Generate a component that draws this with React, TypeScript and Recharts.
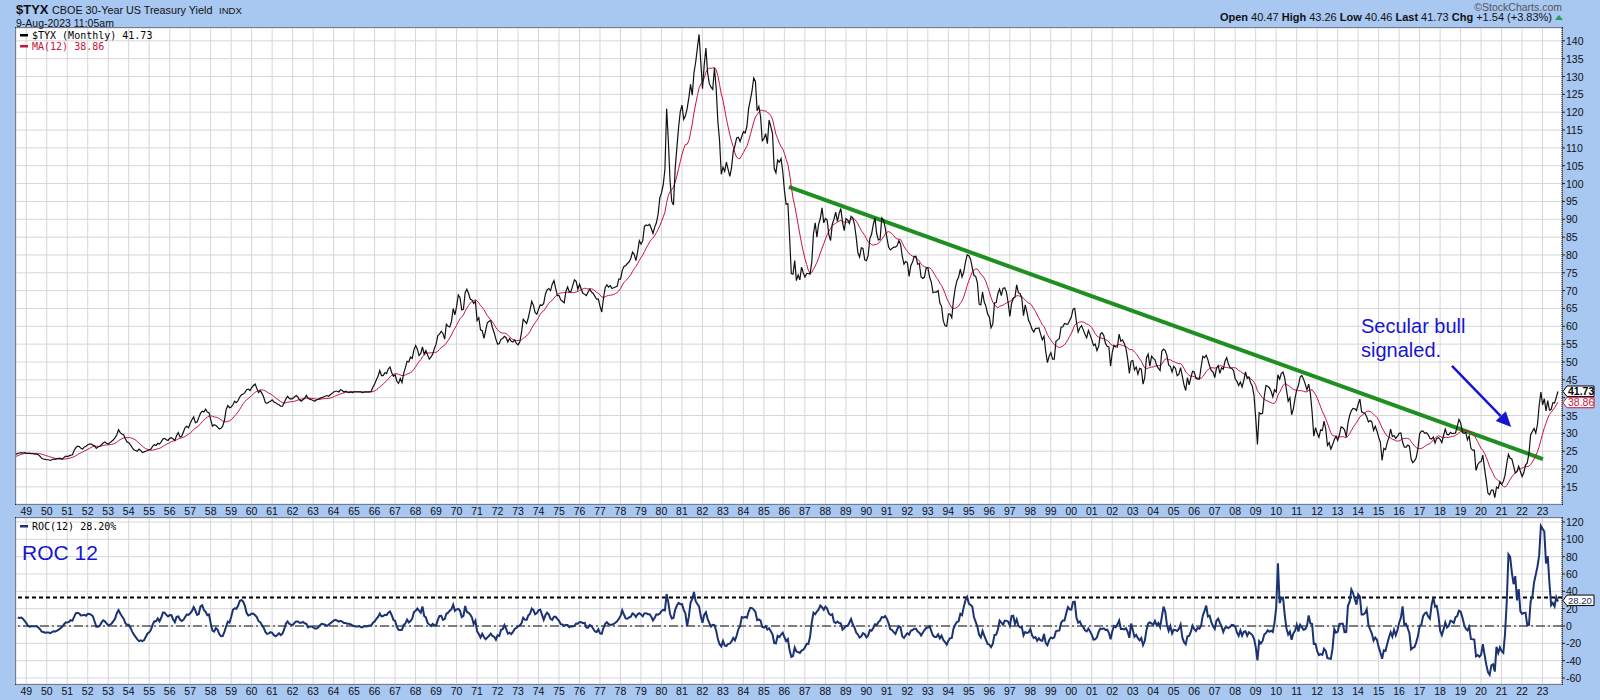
import React from "react";
import {
  CartesianGrid,
  ComposedChart,
  Line,
  ReferenceDot,
  ReferenceLine,
  XAxis,
  YAxis,
} from "recharts";

// $TYX monthly closes (yield x 10), starting Jun 1947
const START_YEAR = 1947;
const START_MONTH = 6;
// each monthly point sits ~2 months right of its year grid line
const POINT_OFFSET = 0.17;

const closes1940s = [
  22.2, 22.4, 22.4, 22.6, 23.2, 23.6, 24.4,
  24.6, 24.4, 24.4, 24.3, 24.2, 24.4, 24.5, 24.6, 24.5, 24.6, 24.4, 24.4,
  24.4, 24.3, 24.3, 24.2, 24.2, 24.0, 23.6, 23.0, 22.8, 22.7, 22.6, 22.6,
];
const closes1950s = [
  22.4, 22.6, 22.8, 22.7, 22.9, 23.0, 23.0, 22.8, 23.2, 23.6, 23.5, 23.7,
  23.9, 24.0, 25.2, 26.0, 26.4, 26.3, 25.8, 25.6, 26.2, 26.4, 26.8, 27.0,
  27.0, 26.7, 26.5, 25.8, 26.2, 26.4, 26.8, 27.3, 27.6, 27.2, 27.0, 27.4,
  27.8, 28.2, 28.8, 29.6, 31.0, 30.2, 29.8, 29.6, 28.5, 27.6, 27.4, 26.8,
  26.0, 25.4, 25.2, 25.0, 25.6, 25.2, 24.6, 24.8, 25.0, 25.2, 25.4, 25.6,
  26.4, 26.8, 26.6, 27.2, 27.0, 27.6, 28.4, 28.6, 28.2, 28.0, 28.6, 28.8,
  28.4, 28.0, 29.4, 30.2, 29.0, 29.2, 30.4, 31.6, 32.0, 31.6, 32.8, 33.8,
  34.6, 33.0, 33.2, 34.4, 35.6, 36.2, 36.0, 36.8, 36.0, 35.8, 33.8, 32.0,
  32.4, 32.2, 31.8, 31.2, 31.4, 32.0, 33.6, 36.6, 37.8, 37.2, 37.4, 38.0,
  39.0, 38.6, 39.2, 40.2, 40.8, 41.0, 41.4, 42.2, 42.4, 42.0, 42.8, 43.4,
];
const closes1960s = [
  43.8, 42.6, 41.4, 42.0, 41.2, 40.2, 38.6, 38.4, 38.8, 39.0, 39.4, 38.8,
  38.6, 38.2, 38.0, 37.6, 37.6, 38.6, 39.6, 40.4, 39.8, 39.6, 39.8, 40.2,
  40.6, 40.2, 39.4, 39.0, 39.4, 39.8, 40.6, 39.8, 39.6, 39.4, 39.2, 39.0,
  39.4, 39.6, 39.8, 40.0, 40.2, 40.4, 40.6, 40.4, 40.8, 41.2, 41.6, 41.8,
  41.8, 41.6, 42.2, 42.0, 41.6, 41.8, 41.6, 41.4, 41.6, 41.4, 41.6, 41.6,
  41.6, 41.6, 41.6, 41.4, 41.6, 41.6, 41.6, 41.6, 41.8, 43.0, 43.8, 45.0,
  46.0, 47.6, 46.2, 46.2, 47.0, 46.8, 48.0, 48.6, 47.0, 46.0, 46.4, 44.6,
  44.0, 45.4, 44.2, 46.8, 48.4, 50.2, 50.0, 51.4, 51.0, 53.4, 54.6, 53.6,
  51.8, 52.4, 54.2, 52.2, 53.2, 52.0, 50.8, 51.4, 52.2, 53.8, 55.0, 57.4,
  57.8, 58.6, 58.0, 56.4, 60.6, 60.0, 59.8, 61.4, 65.0, 63.2, 65.6, 68.8,
];
const closes1970s = [
  68.0, 64.6, 64.8, 69.4, 70.4, 69.2, 67.6, 67.4, 66.4, 67.0, 61.6, 62.4,
  59.0, 58.8, 56.6, 58.8, 61.0, 61.4, 61.6, 59.6, 58.2, 56.4, 55.0, 55.2,
  56.4, 56.6, 57.2, 56.8, 55.6, 56.6, 55.8, 55.6, 56.2, 55.2, 54.8, 55.6,
  58.2, 62.0, 61.4, 60.8, 62.4, 64.6, 67.0, 65.8, 63.8, 63.4, 64.8, 66.0,
  65.8, 66.4, 69.0, 70.2, 70.6, 70.0, 71.8, 72.8, 70.6, 68.6, 68.6, 67.4,
  67.0, 66.6, 69.8, 71.0, 69.6, 69.8, 71.4, 73.0, 72.6, 70.4, 71.8, 70.4,
  69.2, 69.0, 68.6, 69.6, 70.4, 69.6, 69.2, 68.4, 67.6, 67.6, 65.6, 64.0,
  67.8, 70.8, 71.6, 71.0, 71.4, 70.6, 70.8, 71.0, 71.2, 73.2, 73.2, 75.6,
  76.8, 77.0, 77.6, 78.0, 79.0, 80.8, 80.2, 78.4, 80.8, 84.0, 83.0, 84.0,
  88.0, 88.4, 88.2, 88.6, 87.4, 86.0, 87.8, 89.0, 91.4, 96.0, 97.4, 99.6,
];
const closes1980s = [
  104.0, 121.0, 112.0, 100.8, 95.0, 94.0, 104.2, 110.0, 115.8, 120.2, 122.0, 118.0,
  119.0, 121.0, 124.0, 127.8, 124.8, 131.0, 134.0, 138.0, 141.8, 134.0, 126.6, 133.2,
  138.0, 131.0, 128.0, 127.0, 126.4, 132.4, 126.8, 117.4, 112.0, 102.6, 104.6, 103.4,
  106.0, 104.0, 102.0, 104.4, 109.0, 110.6, 112.8, 113.0, 111.8, 113.2, 114.6, 114.2,
  116.0, 121.0, 123.4, 126.0, 129.6, 128.6, 120.4, 121.6, 118.8, 112.0, 112.6, 114.0,
  111.2, 117.8, 116.0, 114.0, 104.2, 103.0, 106.6, 106.0, 107.0, 103.4, 98.0, 94.2,
  94.4, 85.2, 74.8, 74.6, 78.4, 72.8, 74.4, 73.0, 76.6, 75.0, 73.8, 74.8,
  74.8, 74.6, 78.0, 86.0, 89.0, 85.0, 88.6, 90.2, 93.2, 89.0, 90.2, 89.8,
  85.6, 84.0, 88.6, 90.0, 92.0, 89.4, 91.6, 93.0, 89.2, 86.8, 90.2, 89.8,
  88.8, 90.8, 90.4, 88.6, 85.0, 80.6, 79.4, 82.0, 81.8, 78.6, 78.4, 79.8,
];
const closes1990s = [
  84.6, 85.8, 88.4, 90.4, 86.0, 84.2, 84.4, 90.4, 89.8, 87.6, 84.8, 82.2,
  81.4, 81.8, 82.2, 82.2, 82.6, 84.0, 83.0, 79.6, 77.4, 78.2, 77.8, 74.0,
  77.0, 78.0, 79.6, 79.6, 77.4, 77.6, 73.8, 73.4, 73.8, 76.4, 76.4, 73.8,
  72.4, 69.4, 69.6, 69.6, 70.0, 66.6, 65.6, 61.6, 60.2, 60.0, 63.4, 63.4,
  62.4, 67.4, 70.6, 72.8, 73.8, 76.0, 73.8, 75.2, 78.0, 80.0, 79.8, 78.8,
  76.4, 74.2, 74.0, 72.2, 66.2, 66.0, 69.6, 66.8, 65.6, 63.4, 62.6, 59.6,
  60.6, 66.6, 66.6, 69.2, 70.4, 68.6, 70.6, 70.8, 69.6, 66.6, 62.8, 66.4,
  67.8, 68.2, 71.6, 69.4, 69.2, 67.8, 63.0, 66.0, 64.0, 61.6, 60.6, 59.2,
  58.4, 59.4, 59.4, 59.6, 57.8, 56.2, 57.2, 53.0, 49.8, 51.6, 52.6, 50.8,
  50.8, 55.8, 56.2, 56.6, 59.8, 59.8, 60.8, 60.6, 60.6, 61.6, 62.6, 64.8,
];
const closes2000s = [
  65.0, 61.2, 58.4, 59.6, 60.2, 59.0, 57.8, 56.8, 58.8, 57.6, 56.2, 54.6,
  55.0, 53.2, 54.4, 57.8, 58.2, 57.4, 55.2, 54.4, 54.2, 48.8, 52.8, 54.6,
  54.2, 54.2, 57.8, 55.8, 56.2, 55.2, 53.8, 50.8, 46.8, 50.2, 50.4, 47.8,
  48.6, 46.6, 48.2, 48.0, 43.8, 45.6, 51.2, 52.2, 48.8, 51.6, 51.0, 50.6,
  49.0, 48.2, 47.6, 53.0, 53.6, 53.2, 51.8, 49.2, 48.8, 47.2, 48.8, 48.2,
  46.2, 46.6, 48.4, 46.0, 43.6, 42.0, 45.6, 43.6, 45.6, 47.4, 47.2, 45.4,
  45.2, 45.2, 48.6, 51.6, 51.2, 51.9, 50.6, 48.8, 47.6, 47.2, 45.6, 48.2,
  49.0, 46.8, 48.4, 48.0, 50.2, 51.2, 49.4, 48.4, 48.2, 47.6, 45.2, 44.6,
  43.4, 44.4, 43.0, 44.8, 47.2, 45.4, 45.8, 44.2, 43.2, 40.6, 34.2, 26.9,
  35.8, 35.4, 35.6, 40.4, 43.4, 43.2, 42.8, 41.8, 40.2, 42.2, 41.6, 46.4,
];
const closes2010s = [
  45.2, 46.8, 47.2, 45.4, 42.2, 39.0, 40.0, 35.2, 36.8, 39.8, 42.2, 43.4,
  45.8, 46.2, 45.2, 43.8, 42.2, 43.8, 41.2, 36.0, 29.2, 31.6, 30.0, 28.9,
  31.0, 30.8, 33.4, 31.2, 26.6, 27.4, 25.6, 26.8, 28.2, 29.2, 28.0, 29.6,
  31.8, 31.6, 31.0, 29.0, 32.8, 35.0, 36.4, 37.0, 36.9, 36.4, 38.2, 39.6,
  36.0, 35.8, 35.6, 34.6, 33.2, 33.6, 33.2, 30.8, 32.0, 30.6, 28.9, 27.5,
  22.4, 25.8, 25.4, 27.4, 28.8, 31.2, 29.1, 29.4, 28.6, 29.2, 30.0, 30.1,
  27.5, 26.2, 26.1, 26.7, 26.4, 22.8, 21.8, 22.3, 23.2, 25.8, 29.9, 30.6,
  30.6, 30.0, 30.2, 29.6, 28.6, 28.4, 29.0, 27.3, 28.6, 28.8, 28.3, 27.4,
  29.4, 31.2, 29.7, 29.6, 30.3, 29.9, 30.0, 30.1, 31.9, 33.9, 33.0, 30.2,
  30.0, 30.2, 28.2, 29.3, 25.8, 25.3, 25.3, 19.6, 21.2, 21.9, 22.1, 23.9,
];
const closes2020s = [
  20.1, 16.8, 13.2, 12.8, 14.1, 14.1, 12.0, 14.9, 14.6, 16.5, 15.7, 16.5,
  18.3, 21.5, 24.1, 23.0, 22.8, 20.9, 18.9, 19.3, 20.8, 19.3, 17.9, 19.0,
  21.1, 21.7, 24.4, 29.6, 30.5, 31.4, 30.1, 32.55, 37.8, 41.6, 38.0, 39.7,
  36.3, 39.2, 36.5, 36.7, 38.6, 38.5, 40.1, 41.73,
];

const yearTicks = [
  1949, 1950, 1951, 1952, 1953, 1954, 1955, 1956, 1957, 1958, 1959, 1960, 1961,
  1962, 1963, 1964, 1965, 1966, 1967, 1968, 1969, 1970, 1971, 1972, 1973, 1974,
  1975, 1976, 1977, 1978, 1979, 1980, 1981, 1982, 1983, 1984, 1985, 1986, 1987,
  1988, 1989, 1990, 1991, 1992, 1993, 1994, 1995, 1996, 1997, 1998, 1999, 2000,
  2001, 2002, 2003, 2004, 2005, 2006, 2007, 2008, 2009, 2010, 2011, 2012, 2013,
  2014, 2015, 2016, 2017, 2018, 2019, 2020, 2021, 2022, 2023,
];
const priceTicks = [15, 20, 25, 30, 35, 40, 45, 50, 55, 60, 65, 70, 75, 80, 85, 90, 95, 100, 105, 110, 115, 120, 125, 130, 135, 140];
// the "40" label sits under the last-value tags
const hiddenPriceLabels = [40];
const rocTicks = [-60, -40, -20, 0, 20, 40, 60, 80, 100, 120];

// drawn annotations, in chart units (year, value)
const trendline = [
  { x: 1986.22, y: 99.1 },
  { x: 2023.02, y: 22.8 },
];
const callout = [
  { x: 2018.58, y: 48.9 },
  { x: 2021.47, y: 31.8 },
];
const ROC_SIGNAL = 33;
const MA_LAST = "38.86";
const ROC_LAST = "28.20";

const T_MIN = 1948.5;
const T_MAX = 2023.95;
const FONT = "'Liberation Sans', Arial, sans-serif";
const MONO = "'DejaVu Sans Mono', monospace";
const BLUE = "#1616d0";

const closes = [
  ...closes1940s,
  ...closes1950s,
  ...closes1960s,
  ...closes1970s,
  ...closes1980s,
  ...closes1990s,
  ...closes2000s,
  ...closes2010s,
  ...closes2020s,
];

const rows = closes.map((close, i) => {
  const t = START_YEAR + (START_MONTH - 1 + i) / 12 + POINT_OFFSET;
  let ma: number | null = null;
  if (i >= 11) {
    let s = 0;
    for (let k = i - 11; k <= i; k++) s += closes[k];
    ma = s / 12;
  }
  const roc = i >= 12 ? (close / closes[i - 12] - 1) * 100 : null;
  return { t, close, ma, roc };
});
const lastClose = closes[closes.length - 1];

const YearTick = ({ x, y, payload }: any) => (
  <text x={x} y={y + 11} textAnchor="middle" fontSize={10.5} fontFamily={FONT} fill="#111">
    {String(payload.value % 100).padStart(2, "0")}
  </text>
);

const ValueAxisTick = ({ x, y, payload, hidden }: any) => (
  <g>
    <line x1={x} y1={y} x2={x + 3} y2={y} stroke="#222" strokeWidth={1} />
    {hidden && hidden.includes(payload.value) ? null : (
      <text x={x + 4} y={y + 4} fontSize={10.5} fontFamily={FONT} fill="#111">
        {payload.value}
      </text>
    )}
  </g>
);

function ValueTag({ cx, cy, text, stroke, color, bold, size = 10.5 }: any) {
  const x = cx + 1;
  return (
    <g>
      <polygon
        points={`${x},${cy} ${x + 4},${cy - 5.5} ${x + 31},${cy - 5.5} ${x + 31},${cy + 5} ${x + 4},${cy + 5}`}
        fill="#fff"
        stroke={stroke}
        strokeWidth={1}
      />
      <text x={x + 5} y={cy + 3.5} fontSize={size} fontWeight={bold ? 700 : 400} fontFamily={FONT} fill={color}>
        {text}
      </text>
    </g>
  );
}

function ArrowShape({ x1, y1, x2, y2 }: any) {
  const dx = x2 - x1;
  const dy = y2 - y1;
  const len = Math.hypot(dx, dy) || 1;
  const ux = dx / len;
  const uy = dy / len;
  const bx = x2 - ux * 15;
  const by = y2 - uy * 15;
  const nx = -uy * 7;
  const ny = ux * 7;
  return (
    <g>
      <line x1={x1} y1={y1} x2={bx} y2={by} stroke={BLUE} strokeWidth={2.5} />
      <polygon points={`${x2},${y2} ${bx + nx},${by + ny} ${bx - nx},${by - ny}`} fill={BLUE} />
    </g>
  );
}

export default function App() {
  return (
    <div style={{ position: "relative", width: 1600, height: 700, background: "#a8c7f1", overflow: "hidden" }}>
      <style>{"body{margin:0}"}</style>

      {/* panel frames */}
      <div style={{ position: "absolute", left: 15, top: 27, width: 1548, height: 478, boxSizing: "border-box", border: "1px solid #14224a", background: "#fff" }} />
      <div style={{ position: "absolute", left: 15, top: 517, width: 1548, height: 168, boxSizing: "border-box", border: "1px solid #14224a", background: "#fff" }} />

      <div style={{ position: "absolute", left: 0, top: 0 }}>
        <ComposedChart width={1600} height={518} data={rows} margin={{ top: 28, right: 0, bottom: 0, left: 16 }}>
          <CartesianGrid stroke="#d6d6d6" fill="#ffffff" />
          <XAxis
            dataKey="t"
            type="number"
            domain={[T_MIN, T_MAX]}
            ticks={yearTicks}
            allowDataOverflow
            height={14}
            tickSize={0}
            tickMargin={0}
            axisLine={false}
            tickLine={false}
            tick={<YearTick />}
            interval={0}
          />
          <YAxis
            orientation="right"
            type="number"
            domain={[10.2, 143.6]}
            ticks={priceTicks}
            allowDataOverflow
            width={38}
            tickSize={0}
            tickMargin={0}
            axisLine={{ stroke: "#222", strokeDasharray: "1 1" }}
            tickLine={false}
            tick={<ValueAxisTick hidden={hiddenPriceLabels} />}
            interval={0}
          />
          <ReferenceLine segment={trendline} stroke="#1f8f1f" strokeWidth={4} />
          <Line dataKey="ma" stroke="#c8143c" strokeWidth={1} dot={false} isAnimationActive={false} />
          <Line dataKey="close" stroke="#111" strokeWidth={1.2} dot={false} isAnimationActive={false} />
          <ReferenceLine segment={callout} shape={<ArrowShape />} />
          <ReferenceDot
            x={T_MAX}
            y={lastClose}
            r={0}
            ifOverflow="visible"
            shape={(p: any) => <ValueTag cx={p.cx} cy={p.cy} text={lastClose.toFixed(2)} stroke="#000" color="#000" bold />}
          />
          <ReferenceDot
            x={T_MAX}
            y={Number(MA_LAST)}
            r={0}
            ifOverflow="visible"
            shape={(p: any) => <ValueTag cx={p.cx} cy={p.cy + 1} text={MA_LAST} stroke="#c8143c" color="#c8143c" />}
          />
        </ComposedChart>
      </div>

      <div style={{ position: "absolute", left: 0, top: 504 }}>
        <ComposedChart width={1600} height={196} data={rows} margin={{ top: 14, right: 0, bottom: 0, left: 16 }}>
          <CartesianGrid stroke="#d6d6d6" fill="#ffffff" />
          <XAxis
            dataKey="t"
            type="number"
            domain={[T_MIN, T_MAX]}
            ticks={yearTicks}
            allowDataOverflow
            height={16}
            tickSize={0}
            tickMargin={0}
            axisLine={false}
            tickLine={false}
            tick={<YearTick />}
            interval={0}
          />
          <YAxis
            orientation="right"
            type="number"
            domain={[-66.9, 124.6]}
            ticks={rocTicks}
            allowDataOverflow
            width={38}
            tickSize={0}
            tickMargin={0}
            axisLine={{ stroke: "#222", strokeDasharray: "1 1" }}
            tickLine={false}
            tick={<ValueAxisTick />}
            interval={0}
          />
          <ReferenceLine y={0} stroke="#111" strokeWidth={1} strokeDasharray="9 3 2 3" />
          <ReferenceLine y={ROC_SIGNAL} stroke="#000" strokeWidth={2} strokeDasharray="4 3" />
          <Line dataKey="roc" stroke="#1c3372" strokeWidth={2} dot={false} isAnimationActive={false} />
          <ReferenceDot
            x={T_MAX}
            y={Number(ROC_LAST)}
            r={0}
            ifOverflow="visible"
            shape={(p: any) => <ValueTag cx={p.cx} cy={p.cy - 1} text={ROC_LAST} stroke="#000" color="#1c2f60" size={9.5} />}
          />
        </ComposedChart>
      </div>

      {/* titles, legends and notes */}
      <svg width={1600} height={700} style={{ position: "absolute", left: 0, top: 0, pointerEvents: "none" }}>
        <text x={16} y={14} fontFamily={FONT} fontSize={13} fontWeight={700} fill="#111">$TYX</text>
        <text x={52} y={14} fontFamily={FONT} fontSize={10.8} fill="#111">CBOE 30-Year US Treasury Yield</text>
        <text x={219} y={14} fontFamily={FONT} fontSize={9.6} fill="#111">INDX</text>
        <text x={16} y={27} fontFamily={FONT} fontSize={10.5} fill="#111">9-Aug-2023 11:05am</text>

        <text x={1562} y={11} textAnchor="end" fontFamily={FONT} fontSize={10.5} fill="#555">©StockCharts.com</text>
        <text x={1552} y={21} textAnchor="end" fontFamily={FONT} fontSize={11} fill="#111">
          <tspan fontWeight={700}>Open</tspan> 40.47 <tspan fontWeight={700}>High</tspan> 43.26{" "}
          <tspan fontWeight={700}>Low</tspan> 40.46 <tspan fontWeight={700}>Last</tspan> 41.73{" "}
          <tspan fontWeight={700}>Chg</tspan> +1.54 (+3.83%)
        </text>
        <polygon points="1555,20 1559,15 1563,20" fill="#2e9a52" />

        <rect x={20} y={34} width={8} height={2.5} fill="#000" />
        <text x={32} y={38.5} fontFamily={MONO} fontSize={10} fill="#000">$TYX (Monthly) 41.73</text>
        <rect x={20} y={45} width={8} height={2.5} fill="#c8143c" />
        <text x={32} y={49.5} fontFamily={MONO} fontSize={10} fill="#c8143c">MA(12) {MA_LAST}</text>

        <rect x={20} y={525} width={8} height={2.5} fill="#1c3372" />
        <text x={32} y={529.5} fontFamily={MONO} fontSize={10} fill="#000">ROC(12) {ROC_LAST}%</text>
        <text x={22} y={559.5} fontFamily={FONT} fontSize={21} fill={BLUE}>ROC 12</text>

        <text x={1361} y={333} fontFamily={FONT} fontSize={20} fill={BLUE}>Secular bull</text>
        <text x={1361} y={357} fontFamily={FONT} fontSize={20} fill={BLUE}>signaled.</text>
      </svg>
    </div>
  );
}
